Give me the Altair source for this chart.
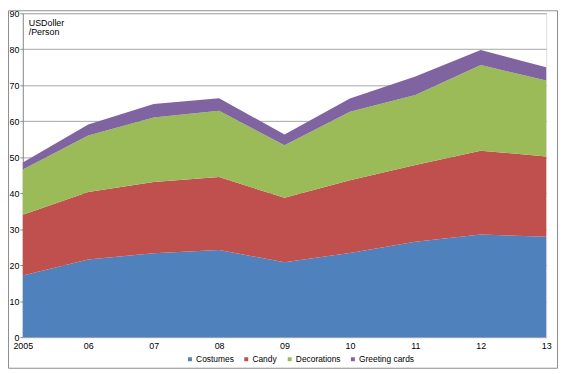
import altair as alt
import pandas as pd

years = [2005, 2006, 2007, 2008, 2009, 2010, 2011, 2012, 2013]
series = ["Costumes", "Candy", "Decorations", "Greeting cards"]
costumes = [17.1, 21.6, 23.3, 24.2, 20.8, 23.4, 26.5, 28.5, 27.9]
candy = [16.9, 18.7, 19.8, 20.3, 17.9, 20.2, 21.3, 23.3, 22.3]
decorations = [12.6, 15.7, 17.9, 18.4, 14.6, 19.0, 19.5, 23.8, 21.1]
greeting = [1.9, 3.1, 3.8, 3.5, 3.0, 3.7, 5.1, 4.2, 3.7]
colors = ["#4F81BD", "#C0504D", "#9BBB59", "#8064A2"]
y_ticks = [0, 10, 20, 30, 40, 50, 60, 70, 80, 90]
unit_lines = ["USDoller", "/Person"]

rows = []
for name, vals in zip(series, [costumes, candy, decorations, greeting]):
    for yr, v in zip(years, vals):
        rows.append({"year": yr, "series": name, "value": v, "order": series.index(name)})
df = pd.DataFrame(rows)

FONT = "Liberation Sans"
W, H = 530, 328

area = alt.Chart(df).mark_area(opacity=1).encode(
    x=alt.X("year:Q", scale=alt.Scale(domain=[2005, 2013], nice=False, zero=False),
            axis=alt.Axis(values=years, title=None, grid=False, ticks=False, domain=False,
                          labelExpr="datum.value == 2005 ? '2005' : slice(toString(datum.value), 2)",
                          labelFont=FONT, labelFontSize=9, labelColor="#000", labelPadding=5,
                          labelFlush=False)),
    y=alt.Y("value:Q", stack="zero", scale=alt.Scale(domain=[0, 90], nice=False),
            axis=alt.Axis(values=y_ticks, title=None, grid=True, gridColor="#a6a6a6",
                          gridWidth=1, domainColor="#8c8c8c", tickColor="#8c8c8c",
                          tickSize=3, labelFont=FONT, labelFontSize=9, labelColor="#000",
                          labelPadding=1)),
    color=alt.Color("series:N", scale=alt.Scale(domain=series, range=colors),
                    legend=alt.Legend(title=None, orient="none", direction="horizontal",
                                      legendX=165, legendY=346, symbolType="square",
                                      symbolSize=16, symbolStrokeWidth=0,
                                      labelFont=FONT, labelFontSize=8.5, labelColor="#000",
                                      columnPadding=8, labelOffset=2)),
    order=alt.Order("order:Q", sort="ascending"),
)

unit_df = pd.DataFrame({"t": unit_lines, "row": [0, 1]})
unit = alt.Chart(unit_df).mark_text(align="left", baseline="middle", font=FONT,
                                    fontSize=9, color="#000").encode(
    x=alt.value(6),
    y=alt.Y("row:Q", scale=alt.Scale(domain=[0, 1], range=[10, 19]), axis=None),
    text="t:N",
)

border = alt.Chart(pd.DataFrame({"a": [0]})).mark_rect(
    fill=None, stroke="#8c8c8c", strokeWidth=1).encode(
    x=alt.value(-14.5), x2=alt.value(541.5), y=alt.value(-2.5), y2=alt.value(359.5))

chart = alt.layer(area, unit, border).resolve_scale(y="independent").properties(
    width=W, height=H,
    autosize=alt.AutoSizeParams(type="none"),
    padding={"left": 15, "top": 3, "right": 14, "bottom": 33},
).configure_view(stroke=None).configure(background="#ffffff")

chart.save("out.html", embed_options={"renderer": "svg", "actions": False})
